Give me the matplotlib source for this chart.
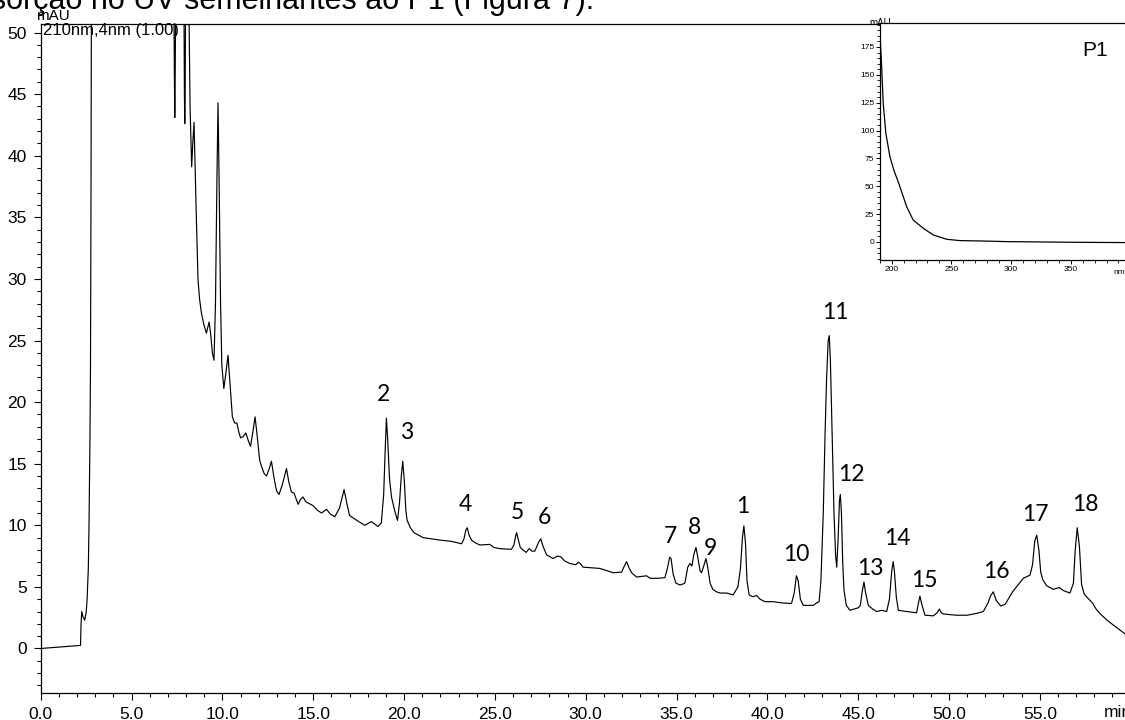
import numpy as np
import matplotlib.pyplot as plt
from matplotlib.ticker import MultipleLocator, FormatStrFormatter

# Chromatogramm 210 nm (60 = ausserhalb des Bereichs)
zeit_min = [
    0.00, 2.19, 2.22, 2.26, 2.32, 2.42, 2.50, 2.55, 2.62, 2.66, 2.71, 2.74, 2.77, 2.80,
    7.30, 7.36, 7.38, 7.40, 7.46, 7.86, 7.91, 7.93, 7.95, 8.00, 8.10, 8.22, 8.31, 8.37,
    8.44, 8.57, 8.66, 8.75, 8.85, 8.98, 9.12, 9.20, 9.27, 9.35, 9.45, 9.54, 9.62, 9.70,
    9.76, 9.82, 9.90, 9.97, 10.08, 10.18, 10.31, 10.42, 10.55, 10.68, 10.80, 10.90, 11.00,
    11.15, 11.29, 11.42, 11.55, 11.68, 11.80, 11.92, 12.05, 12.15, 12.30, 12.43, 12.58,
    12.70, 12.85, 12.98, 13.12, 13.30, 13.53, 13.66, 13.80, 13.95, 14.17, 14.30, 14.44,
    14.60, 14.99, 15.25, 15.46, 15.73, 15.95, 16.19, 16.45, 16.70, 16.85, 17.00, 17.40,
    17.84, 18.20, 18.57, 18.75, 18.88, 18.96, 19.03, 19.10, 19.20, 19.31, 19.50, 19.64,
    19.75, 19.85, 19.93, 20.02, 20.10, 20.17, 20.35, 20.55, 21.05, 21.50, 21.97, 22.60,
    23.17, 23.30, 23.40, 23.48, 23.58, 23.72, 23.90, 24.17, 24.72, 24.95, 25.28, 25.91,
    26.05, 26.14, 26.20, 26.28, 26.40, 26.55, 26.72, 26.89, 27.05, 27.20, 27.40, 27.53,
    27.65, 27.85, 28.20, 28.45, 28.62, 28.85, 29.13, 29.45, 29.60, 29.70, 29.86, 30.30,
    30.78, 31.20, 31.52, 31.98, 32.10, 32.25, 32.40, 32.53, 32.80, 33.10, 33.35, 33.55,
    34.00, 34.36, 34.50, 34.62, 34.70, 34.82, 34.97, 35.20, 35.46, 35.62, 35.74, 35.85,
    35.95, 36.07, 36.15, 36.30, 36.38, 36.50, 36.62, 36.72, 36.85, 37.00, 37.20, 37.40,
    37.76, 38.12, 38.38, 38.52, 38.63, 38.71, 38.80, 38.88, 39.00, 39.20, 39.41, 39.60,
    39.87, 40.32, 40.80, 41.33, 41.48, 41.60, 41.70, 41.82, 41.98, 42.30, 42.53, 42.71,
    42.85, 42.95, 43.08, 43.18, 43.26, 43.35, 43.41, 43.47, 43.54, 43.67, 43.76, 43.82,
    43.90, 43.97, 44.02, 44.08, 44.15, 44.22, 44.35, 44.55, 45.00, 45.12, 45.22, 45.32,
    45.40, 45.56, 45.80, 46.02, 46.30, 46.57, 46.72, 46.85, 46.93, 47.00, 47.10, 47.21,
    47.67, 48.22, 48.32, 48.40, 48.50, 48.68, 49.14, 49.35, 49.47, 49.58, 49.69, 50.42,
    51.00, 51.52, 51.89, 52.15, 52.30, 52.44, 52.60, 52.85, 53.10, 53.50, 54.09, 54.46,
    54.60, 54.72, 54.83, 54.95, 55.05, 55.16, 55.37, 55.74, 56.07, 56.30, 56.66, 56.85,
    56.95, 57.06, 57.18, 57.30, 57.45, 57.70, 57.90, 58.10, 58.30, 58.70, 59.05, 59.68,
    60.00,
]
signal_mau = [
    0.00, 0.25, 2.0, 3.0, 2.6, 2.3, 2.9, 3.9, 6.5, 10.2, 17.0, 23.0, 38.0, 60.0,
    60.0, 46.0, 43.1, 46.0, 60.0, 60.0, 45.0, 42.6, 45.0, 60.0, 60.0, 44.0, 39.1, 41.0,
    42.7, 34.8, 29.9, 28.3, 27.2, 26.3, 25.6, 26.1, 26.5, 25.6, 24.0, 23.4, 28.0, 38.0,
    44.3, 38.0, 28.0, 23.0, 21.1, 22.2, 23.8, 21.5, 18.8, 18.3, 18.3, 17.6, 17.1,
    17.2, 17.5, 16.9, 16.4, 17.6, 18.8, 17.2, 15.3, 14.8, 14.2, 14.0, 14.6,
    15.2, 13.8, 12.8, 12.5, 13.3, 14.6, 13.5, 12.7, 12.6, 11.7, 12.1, 12.3,
    11.9, 11.6, 11.2, 11.0, 11.3, 10.9, 10.7, 11.4, 12.9, 11.8, 10.8, 10.4,
    10.0, 10.3, 9.9, 10.2, 12.5, 16.0, 18.7, 17.0, 13.8, 12.3, 11.1, 10.4,
    11.8, 14.0, 15.2, 13.5, 11.2, 10.4, 9.8, 9.4, 9.0, 8.9, 8.8, 8.7,
    8.5, 8.9, 9.6, 9.8, 9.2, 8.8, 8.6, 8.4, 8.45, 8.2, 8.1, 8.05,
    8.4, 9.1, 9.4, 8.9, 8.2, 8.0, 7.8, 8.1, 7.9, 7.9, 8.6, 8.9,
    8.3, 7.6, 7.3, 7.5, 7.45, 7.1, 6.9, 6.8, 7.0, 6.9, 6.6, 6.55,
    6.5, 6.3, 6.15, 6.2, 6.6, 7.05, 6.5, 6.15, 5.8, 5.85, 5.9, 5.7,
    5.7, 5.75, 6.5, 7.4, 7.3, 6.0, 5.3, 5.15, 5.3, 6.6, 6.9, 6.7,
    7.6, 8.2, 7.6, 6.3, 6.15, 6.7, 7.3, 6.6, 5.3, 4.8, 4.6, 4.5,
    4.5, 4.35, 5.0, 6.5, 9.0, 9.95, 8.5, 5.5, 4.35, 4.2, 4.3, 4.0,
    3.8, 3.8, 3.7, 3.65, 4.5, 5.9, 5.5, 4.0, 3.5, 3.5, 3.5, 3.7,
    3.8, 5.5, 11.0, 17.5, 21.8, 25.0, 25.4, 23.5, 19.1, 11.0, 7.5, 6.6,
    9.0, 12.0, 12.5, 11.0, 7.0, 4.75, 3.5, 3.1, 3.3, 3.5, 4.6, 5.4,
    4.6, 3.5, 3.2, 3.0, 3.1, 3.0, 4.0, 6.3, 7.05, 6.2, 4.2, 3.1,
    3.0, 2.9, 3.7, 4.25, 3.6, 2.7, 2.65, 2.9, 3.2, 2.9, 2.8, 2.7,
    2.7, 2.85, 3.0, 3.7, 4.3, 4.6, 3.9, 3.45, 3.6, 4.6, 5.7, 5.95,
    6.8, 8.7, 9.2, 8.0, 6.2, 5.6, 5.1, 4.8, 4.95, 4.7, 4.5, 5.3,
    8.0, 9.8, 8.3, 5.2, 4.4, 4.0, 3.7, 3.2, 2.85, 2.3, 1.9, 1.2,
    0.9,
]

# Peaknummern und Lage der Beschriftung (min, mAU)
peak_namen = ["2", "3", "4", "5", "6", "7", "8", "9", "1", "10",
              "11", "12", "13", "14", "15", "16", "17", "18"]
peak_x = [18.85, 20.17, 23.35, 26.23, 27.71, 34.64, 36.01, 36.84, 38.67, 41.61,
          43.76, 44.60, 45.65, 47.15, 48.64, 52.63, 54.73, 57.49]
peak_y = [20.6, 17.5, 11.7, 11.0, 10.65, 9.1, 9.8, 8.15, 11.5, 7.6,
          27.3, 14.1, 6.5, 8.9, 5.55, 6.25, 10.85, 11.65]

# UV-Spektrum von P1 (nm, mAU)
wellenlaenge_nm = [190.0, 191.6, 192.9, 195.1, 198.5, 201.8, 206.9, 212.5, 218.0,
                   226.4, 234.8, 246.0, 257.2, 274.0, 296.3, 324.3, 352.2, 400.0]
spektrum_mau = [190.0, 157.0, 124.5, 97.6, 76.6, 64.6, 49.6, 31.7, 19.7,
                12.3, 6.3, 2.4, 1.2, 0.9, 0.3, 0.0, -0.3, -0.6]

arial = ['Liberation Sans', 'DejaVu Sans']
calibri = ['Lato', 'DejaVu Sans']
plt.rcParams['font.family'] = arial

fig = plt.figure(figsize=(11.25, 7.2), dpi=100)

# Hauptachse (rechter Rand liegt knapp ausserhalb des Bildes)
ax = fig.add_axes([0.0362, 0.0379, 0.9688, 0.9294])
ax.plot(zeit_min, signal_mau, color='black', linewidth=0.85)
ax.set_xlim(0, 60)
ax.set_ylim(-3.59, 50.73)
ax.spines['right'].set_visible(False)
for s in ['left', 'bottom', 'top']:
    ax.spines[s].set_linewidth(0.9)

ax.set_xticks(np.arange(0, 56, 5))
ax.xaxis.set_major_formatter(FormatStrFormatter('%.1f'))
ax.xaxis.set_minor_locator(MultipleLocator(1))
ax.set_yticks(np.arange(0, 51, 5))
ax.yaxis.set_minor_locator(MultipleLocator(1))
ax.tick_params(which='major', direction='out', length=5, width=0.8, labelsize=12.5, pad=5)
ax.tick_params(which='minor', direction='out', length=3, width=0.8)

ax.text(58.55, -4.55, 'min', fontsize=12.5, ha='left', va='top', clip_on=False)

fig.text(53 / 1125, 1 - 16 / 720, 'mAU', fontsize=11, ha='center', va='center')
fig.text(43.3 / 1125, 1 - 31 / 720, '210nm,4nm (1.00)', fontsize=12, ha='left', va='center')

# Textzeile aus dem Dokument darueber, oben abgeschnitten
fig.text(594 / 1125, 1 - 8.5 / 720, 'absorção no UV semelhantes ao P1 (Figura 7).',
         fontsize=22, ha='right', va='baseline')

for name, x, y in zip(peak_namen, peak_x, peak_y):
    ax.text(x, y, name, fontsize=16.5, family=calibri, ha='center', va='center')

# "mAU" des Einsatzes, unten von den Achsen verdeckt
fig.text(880 / 1125, 1 - 25.5 / 720, 'mAU', fontsize=7, ha='center', va='baseline',
         zorder=-1)

# Einsatz mit UV-Spektrum
ins = fig.add_axes([0.7820, 0.6389, 0.2228, 0.3285])
ins.set_facecolor('white')
ins.plot(wellenlaenge_nm, spektrum_mau, color='black', linewidth=0.9)
ins.set_xlim(190, 400)
ins.set_ylim(-16.2, 196.1)
ins.spines['right'].set_visible(False)
for s in ['left', 'bottom', 'top']:
    ins.spines[s].set_linewidth(0.9)
ins.set_xticks([200, 250, 300, 350])
ins.xaxis.set_minor_locator(MultipleLocator(10))
ins.set_yticks(np.arange(0, 176, 25))
ins.yaxis.set_minor_locator(MultipleLocator(5))
ins.tick_params(which='major', direction='out', length=3, width=0.7, labelsize=6, pad=1)
ins.tick_params(which='minor', direction='out', length=2, width=0.6)
ins.text(385.4, -24, 'nm', fontsize=6, ha='left', va='top', clip_on=False)
ins.text(1095 / 1125, 1 - 50 / 720, 'P1', fontsize=15, ha='center', va='center',
         transform=fig.transFigure)

fig.savefig('out.png', dpi=100)
